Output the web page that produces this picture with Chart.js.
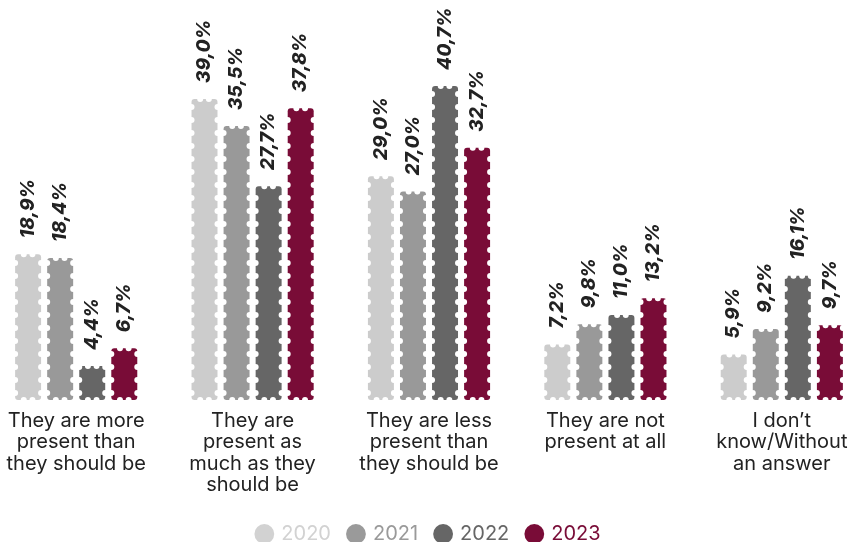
<!DOCTYPE html>
<html>
<head>
<meta charset="utf-8">
<script src="https://cdn.jsdelivr.net/npm/chart.js@4"></script>
<style>
  html, body { margin: 0; padding: 0; background: #fff; overflow: hidden; }
  #wrap { position: relative; width: 848px; height: 542px; overflow: hidden; }
  /* canvas is a bit larger than the window so the outer groups sit like in the reference */
  #chart { position: absolute; left: -12px; top: 1px; }
</style>
</head>
<body>
<div id="wrap"><canvas id="chart" width="882" height="553"></canvas></div>
<script>
// categories (multi-line tick labels)
const categories = [
  ['They are more', 'present than', 'they should be'],
  ['They are', 'present as', 'much as they', 'should be'],
  ['They are less', 'present than', 'they should be'],
  ['They are not', 'present at all'],
  ['I don\u2019t', 'know/Without', 'an answer']
];
const years = ['2020', '2021', '2022', '2023'];
const colors = ['#cccccc', '#999999', '#666666', '#790c37'];
const legendColors = ['#d2d2d2', '#9a9a9a', '#666666', '#790c37'];

// series values (%)
const values2020 = [18.9, 39.0, 29.0, 7.2, 5.9];
const values2021 = [18.4, 35.5, 27.0, 9.8, 9.2];
const values2022 = [4.4, 27.7, 40.7, 11.0, 16.1];
const values2023 = [6.7, 37.8, 32.7, 13.2, 9.7];
const series = [values2020, values2021, values2022, values2023];

const textColor = '#222222';
const fontFamily = 'Inter, "Open Sans", sans-serif';

// white notches along each bar edge (scalloped look) + rotated value labels
const barDecor = {
  id: 'barDecor',
  afterDatasetsDraw(chart) {
    const ctx = chart.ctx;
    chart.data.datasets.forEach((ds, i) => {
      const meta = chart.getDatasetMeta(i);
      meta.data.forEach((bar, j) => {
        const p = bar.getProps(['x', 'y', 'base', 'width'], true);
        const l = p.x - p.width / 2, r = p.x + p.width / 2;
        const third = p.width / 3;
        ctx.save();
        ctx.strokeStyle = '#ffffff';
        ctx.lineWidth = 6;
        ctx.lineCap = 'round';
        ctx.setLineDash([0, 13]);
        ctx.lineDashOffset = -7;
        ctx.beginPath();
        // sides: each one its own subpath so the notches line up left/right
        ctx.moveTo(l, p.base); ctx.lineTo(l, p.y);
        ctx.moveTo(r, p.base); ctx.lineTo(r, p.y);
        ctx.stroke();
        // top and bottom: two notches each, at the thirds
        ctx.setLineDash([0, third]);
        ctx.lineDashOffset = 0;
        ctx.beginPath();
        ctx.moveTo(l + third, p.y); ctx.lineTo(r - third + 0.1, p.y);
        ctx.moveTo(l + third, p.base); ctx.lineTo(r - third + 0.1, p.base);
        ctx.stroke();
        ctx.restore();

        // value label
        ctx.save();
        ctx.translate(p.x, p.y - 16);
        ctx.rotate(-Math.PI / 2);
        ctx.font = 'italic 800 19px ' + fontFamily;
        ctx.fillStyle = textColor;
        ctx.textAlign = 'left';
        ctx.textBaseline = 'middle';
        ctx.fillText(ds.data[j].toFixed(1).replace('.', ',') + '%', 0, 0);
        ctx.restore();
      });
    });
  }
};

new Chart(document.getElementById('chart'), {
  type: 'bar',
  data: {
    labels: categories,
    datasets: years.map((y, i) => ({
      label: y,
      data: series[i],
      backgroundColor: colors[i],
      borderWidth: 0,
      borderRadius: 3,
      borderSkipped: false,
      categoryPercentage: 0.727,
      barPercentage: 0.81
    }))
  },
  options: {
    responsive: false,
    animation: false,
    layout: { padding: 0 },
    plugins: {
      tooltip: { enabled: false },
      legend: {
        position: 'bottom',
        labels: {
          usePointStyle: true,
          pointStyle: 'circle',
          boxWidth: 14,
          boxHeight: 14,
          padding: 18,
          font: { family: fontFamily, size: 20 },
          generateLabels(chart) {
            return chart.data.datasets.map((ds, i) => ({
              text: ds.label,
              fillStyle: legendColors[i],
              strokeStyle: legendColors[i],
              fontColor: legendColors[i],
              lineWidth: 0,
              pointStyle: 'circle',
              datasetIndex: i,
              hidden: false
            }));
          }
        }
      }
    },
    scales: {
      x: {
        grid: { display: false, drawTicks: false },
        border: { display: false },
        ticks: {
          color: textColor,
          padding: 10,
          maxRotation: 0,
          autoSkip: false,
          font: { family: fontFamily, size: 20, lineHeight: 1.075 }
        }
      },
      y: {
        display: false,
        min: 0,
        max: 51.7
      }
    }
  },
  plugins: [barDecor]
});
</script>
</body>
</html>
